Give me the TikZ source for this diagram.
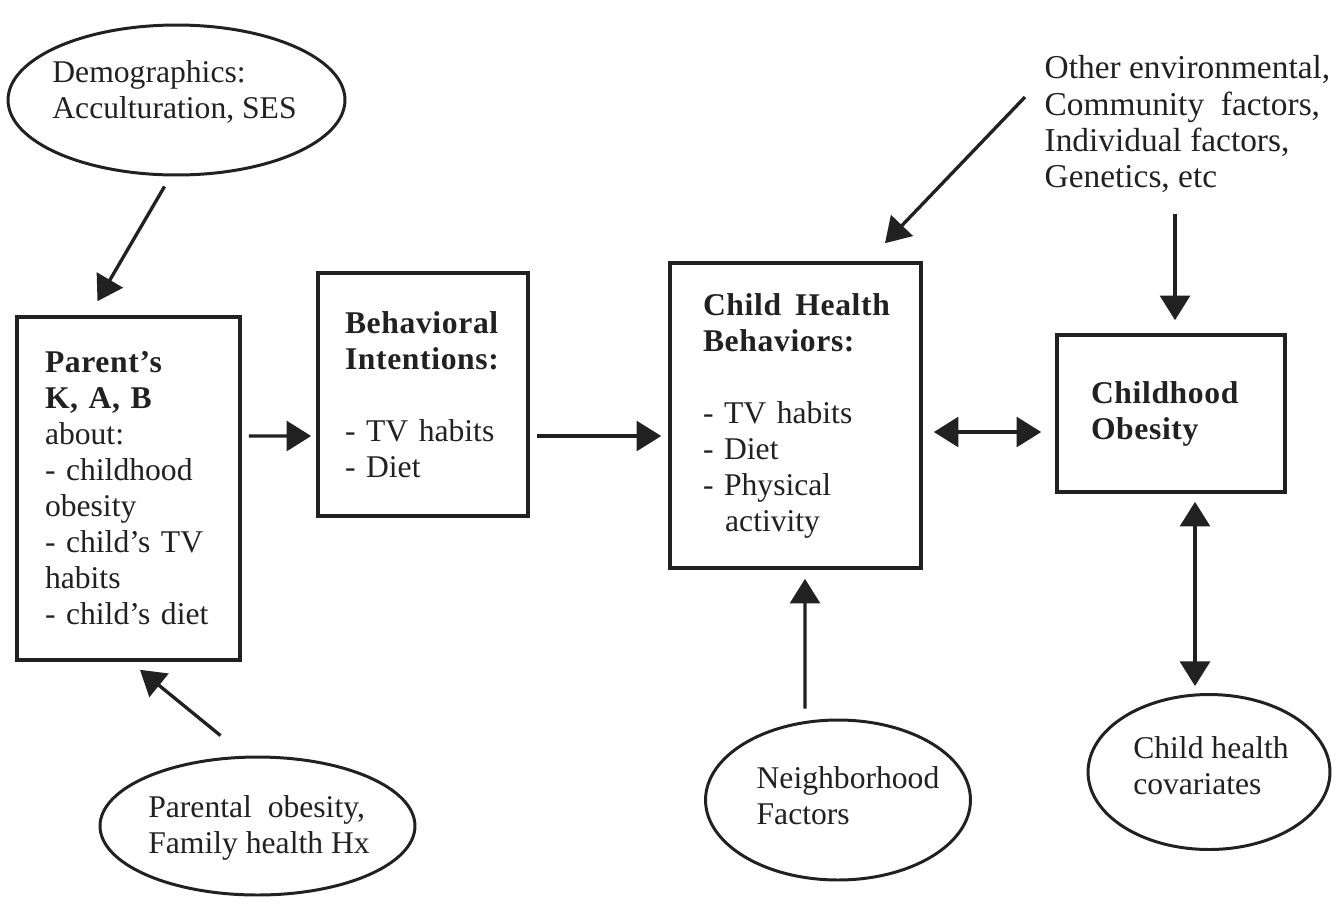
\documentclass[tikz,border=0pt]{standalone}
\usepackage{fontspec}
\setmainfont{Liberation Serif}[BoldFeatures={LetterSpace=2}]
\usetikzlibrary{arrows.meta,shapes.geometric,calc}
\colorlet{ink}{black!87}
\begin{document}
\begin{tikzpicture}
    [x=0.02cm,y=-0.02cm,ink,line width=1.9pt,
     every node/.style={inner sep=0pt, align=left, text=ink, font=\fontsize{18}{20.5}\selectfont},
     box/.style={draw, rectangle, line width=2.1pt},
     oval/.style={draw, ellipse, line width=1.7pt},
     arr/.style={-{Triangle[length=14pt,width=17pt]}},
     dbl/.style={{Triangle[length=14pt,width=17pt]}-{Triangle[length=14pt,width=17pt]}}]
  \useasboundingbox (0,0) rectangle (1338,914);

  % boxes
  \node[box, minimum width=4.46cm, minimum height=6.86cm, text width=3.34cm] (parent) at (128.5,488.5)
    {\textbf{Parent’s}\\ \textbf{K, A, B}\\ about:\\ - childhood\\ obesity\\ - child’s TV\\ habits\\ - child’s diet};
  \node[box, minimum width=4.2cm, minimum height=4.86cm, text width=3.12cm] (intent) at (423,394.5)
    {\textbf{Behavioral}\\ \textbf{Intentions:}\\[20.5pt] - TV habits\\ - Diet};
  \node[box, minimum width=5.02cm, minimum height=6.1cm, text width=3.7cm] (chb) at (795.5,415.5)
    {\makebox[0pt][l]{\textbf{Child\hspace{0.45em}Health}}\\ \textbf{Behaviors:}\\[20.5pt] - TV habits\\ - Diet\\ - Physical\\ \hspace*{0.7em}activity};
  \node[box, minimum width=4.56cm, minimum height=3.14cm, text width=3.2cm] (obesity) at (1171,413.5)
    {\textbf{Childhood}\\ \textbf{Obesity}};

  % ovals
  \node[oval, minimum width=6.74cm, minimum height=3cm] (demo) at (176.5,100) {};
  \node (demo-t) at (174.5,92) {Demographics:\\ Acculturation, SES};
  \node[oval, minimum width=6.3cm, minimum height=2.76cm] (parental) at (257.5,826) {};
  \node (parental-t) at (259,828) {Parental\ \ obesity,\\ Family health Hx};
  \node[oval, minimum width=5.3cm, minimum height=3.2cm] (neigh) at (838,800) {};
  \node (neigh-t) at (848,796) {Neighborhood\\ Factors};
  \node[oval, minimum width=4.84cm, minimum height=3.1cm] (child) at (1209,772) {};
  \node (child-t) at (1211,766) {Child health\\ covariates};

  \node[anchor=west, font=\fontsize{19}{20.5}\selectfont] (other) at (1043,124)
    {Other environmental,\\ Community\ \ factors,\\ Individual factors,\\ Genetics, etc};

  % connectors
  \draw[arr] ([shift={(-12,10)}]demo.south) -- ([shift={(-31,-14)}]parent.north);
  \draw[arr] ([shift={(-37,-20)}]parental.north) -- ([shift={(11.5,8)}]parent.south);
  \draw[arr] ([shift={(7,-52.5)}]parent.east) -- ([shift={(-5,41.5)}]intent.west);
  \draw[arr] ([shift={(7,41.5)}]intent.east) -- ([shift={(-7,20.5)}]chb.west);
  \draw[arr] ([shift={(-18,-27)}]other.west) -- ([shift={(89.5,-18)}]chb.north);
  \draw[arr] ($(other.south -| obesity.north)+(4,20)$) -- ([shift={(4,-13)}]obesity.north);
  \draw[arr] ([shift={(-33,-10)}]neigh.north) -- ([shift={(9.5,9)}]chb.south);
  \draw[dbl] ([shift={(11,16.5)}]chb.east) -- ([shift={(-14,18.5)}]obesity.west);
  \draw[dbl] ([shift={(24,8)}]obesity.south) -- ([shift={(-14,-7)}]child.north);
\end{tikzpicture}
\end{document}
